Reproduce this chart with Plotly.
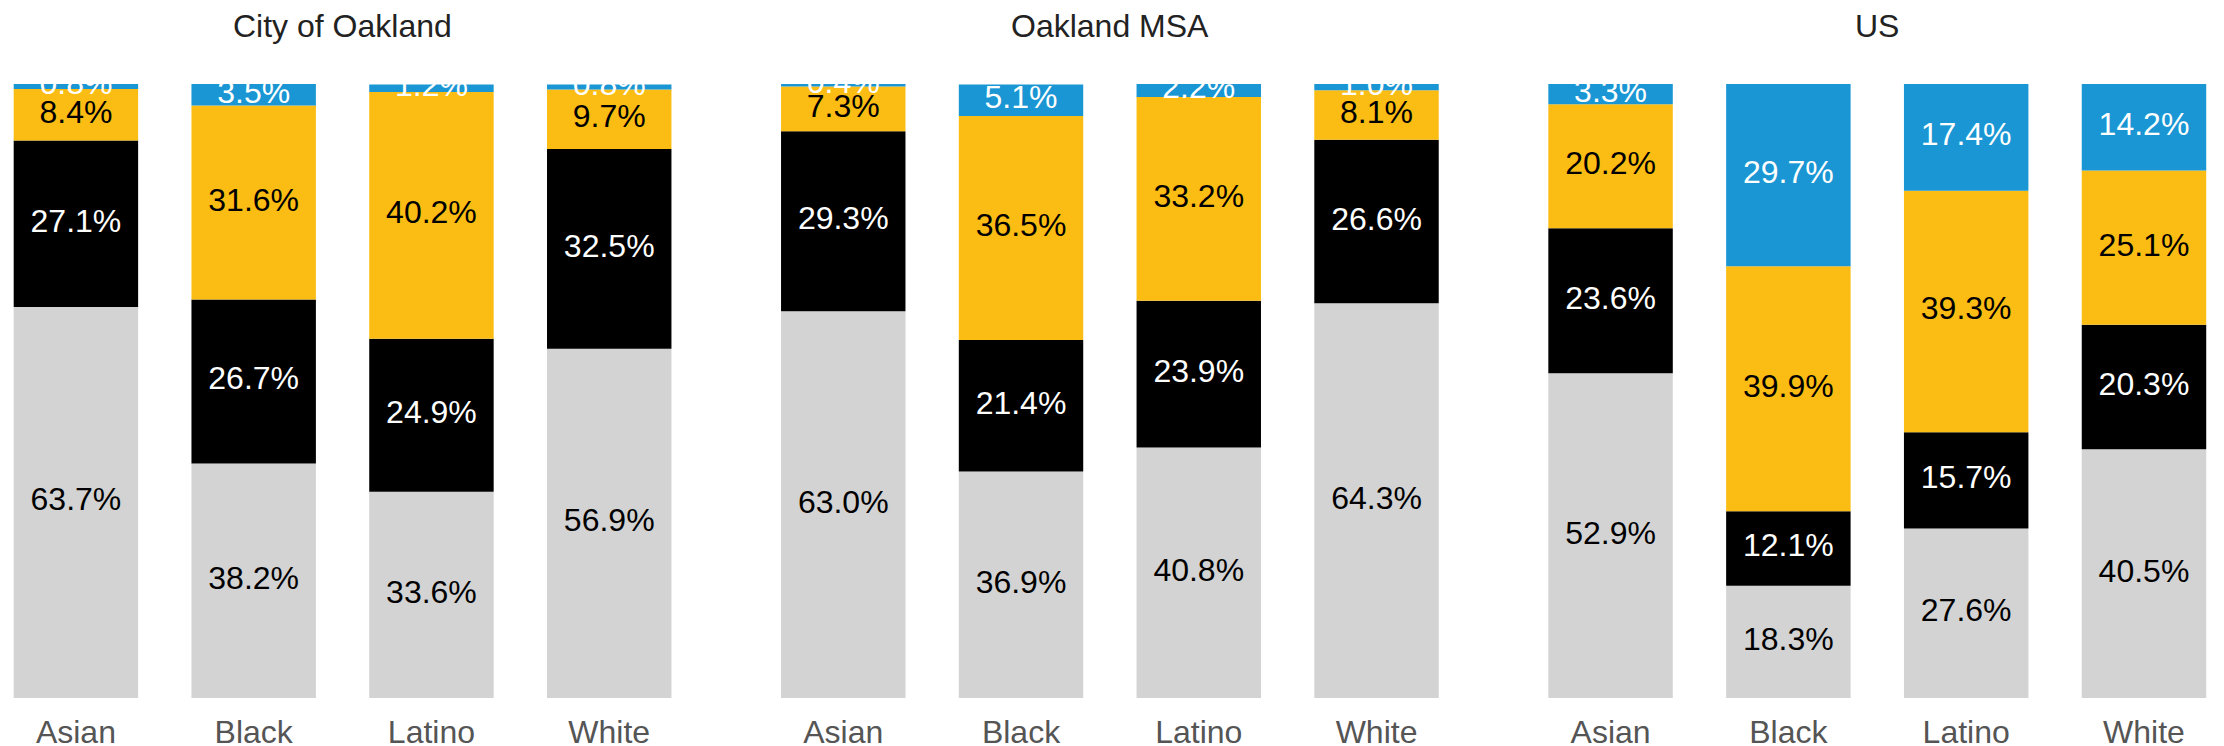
import numpy as np
import plotly.graph_objects as go

# Groups shown in every panel
groups = ["Asian", "Black", "Latino", "White"]
panels = ["City of Oakland", "Oakland MSA", "US"]

# Shares (%) per panel, bottom-to-top stack order: gray, black, yellow, blue
gray_share = {
    "City of Oakland": [63.7, 38.2, 33.6, 56.9],
    "Oakland MSA": [63.0, 36.9, 40.8, 64.3],
    "US": [52.9, 18.3, 27.6, 40.5],
}
black_share = {
    "City of Oakland": [27.1, 26.7, 24.9, 32.5],
    "Oakland MSA": [29.3, 21.4, 23.9, 26.6],
    "US": [23.6, 12.1, 15.7, 20.3],
}
yellow_share = {
    "City of Oakland": [8.4, 31.6, 40.2, 9.7],
    "Oakland MSA": [7.3, 36.5, 33.2, 8.1],
    "US": [20.2, 39.9, 39.3, 25.1],
}
blue_share = {
    "City of Oakland": [0.8, 3.5, 1.2, 0.8],
    "Oakland MSA": [0.4, 5.1, 2.2, 1.0],
    "US": [3.3, 29.7, 17.4, 14.2],
}

layers = [
    (gray_share, "#D3D3D3", "#000000"),
    (black_share, "#000000", "#FFFFFF"),
    (yellow_share, "#FBBD13", "#000000"),
    (blue_share, "#1996D3", "#FFFFFF"),
]

FONT = "Liberation Sans, Arial, Helvetica, sans-serif"

# Horizontal placement of each panel (domain, category range)
domains = [(0.0, 0.3139), (0.3392, 0.6589), (0.6842, 1.0)]
xranges = [(-0.427, 3.5), (-0.5, 3.5), (-0.5, 3.45)]

fig = go.Figure()

for i, panel in enumerate(panels):
    xa = "x" if i == 0 else f"x{i + 1}"
    ya = "y" if i == 0 else f"y{i + 1}"
    base = np.zeros(len(groups))
    for share, fill, txt_color in layers:
        vals = np.array(share[panel])
        fig.add_trace(go.Bar(
            x=groups, y=vals, base=base,
            xaxis=xa, yaxis=ya,
            marker=dict(color=fill, line=dict(width=0)),
            showlegend=False, hoverinfo="skip",
        ))
        fig.add_trace(go.Scatter(
            x=groups, y=base + vals / 2,
            xaxis=xa, yaxis=ya,
            mode="text",
            text=[f"{v:.1f}%" for v in vals],
            textposition="middle center",
            textfont=dict(family=FONT, size=32, color=txt_color),
            showlegend=False, hoverinfo="skip",
            cliponaxis=True,
        ))
        base = base + vals

layout = dict(
    width=2224, height=746,
    margin=dict(l=0, r=0, t=84, b=48, autoexpand=False),
    paper_bgcolor="white", plot_bgcolor="white",
    barmode="overlay", bargap=0.3,
    font=dict(family=FONT, size=32, color="#555555"),
    annotations=[],
)

for i, panel in enumerate(panels):
    sfx = "" if i == 0 else str(i + 1)
    layout[f"xaxis{sfx}"] = dict(
        domain=list(domains[i]), range=list(xranges[i]),
        type="category", categoryorder="array", categoryarray=groups,
        showgrid=False, zeroline=False, showline=False, ticks="",
        tickfont=dict(family=FONT, size=32, color="#555555"),
        ticklabelstandoff=12, automargin=False,
        anchor=f"y{sfx}", fixedrange=True,
    )
    layout[f"yaxis{sfx}"] = dict(
        range=[0, 100], visible=False, showgrid=False, zeroline=False,
        anchor=f"x{sfx}", fixedrange=True, automargin=False,
    )
    layout["annotations"].append(dict(
        text=panel, xref=f"x{sfx}", yref="paper", x=1.5, y=1 + 58 / 614,
        xanchor="center", yanchor="middle", showarrow=False,
        font=dict(family=FONT, size=32, color="#222222"),
    ))

fig.update_layout(**layout)
fig.write_html("out.html")
